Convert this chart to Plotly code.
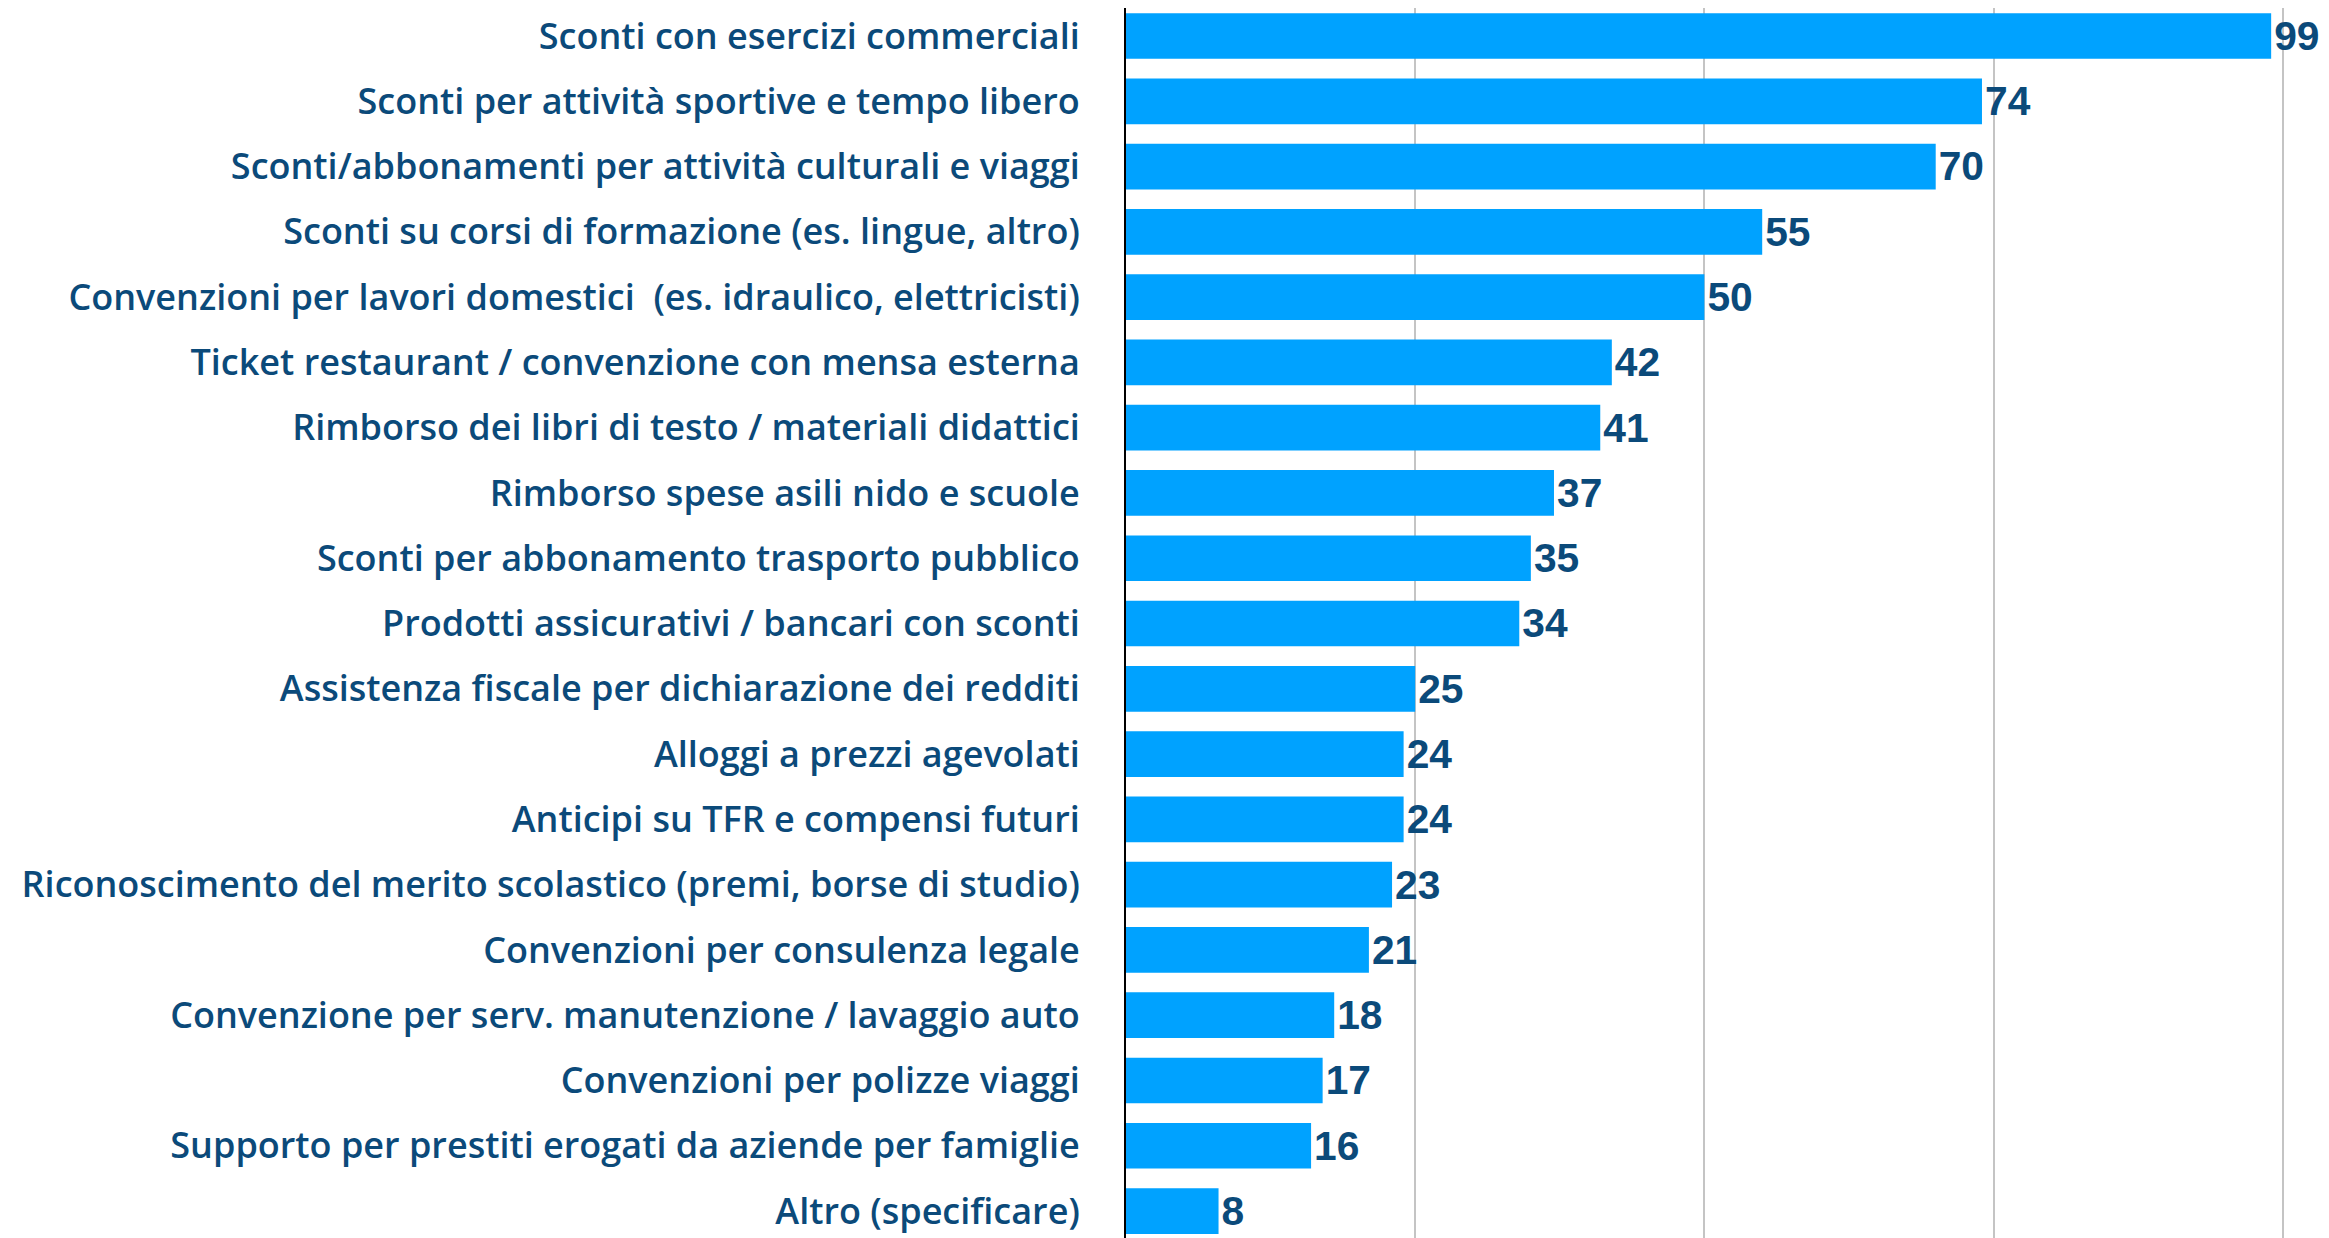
import plotly.graph_objects as go

categories = [
    "Sconti con esercizi commerciali",
    "Sconti per attività sportive e tempo libero",
    "Sconti/abbonamenti per attività culturali e viaggi",
    "Sconti su corsi di formazione (es. lingue, altro)",
    "Convenzioni per lavori domestici  (es. idraulico, elettricisti)",
    "Ticket restaurant / convenzione con mensa esterna",
    "Rimborso dei libri di testo / materiali didattici",
    "Rimborso spese asili nido e scuole",
    "Sconti per abbonamento trasporto pubblico",
    "Prodotti assicurativi / bancari con sconti",
    "Assistenza fiscale per dichiarazione dei redditi",
    "Alloggi a prezzi agevolati",
    "Anticipi su TFR e compensi futuri",
    "Riconoscimento del merito scolastico (premi, borse di studio)",
    "Convenzioni per consulenza legale",
    "Convenzione per serv. manutenzione / lavaggio auto",
    "Convenzioni per polizze viaggi",
    "Supporto per prestiti erogati da aziende per famiglie",
    "Altro (specificare)",
]
values = [99, 74, 70, 55, 50, 42, 41, 37, 35, 34, 25, 24, 24, 23, 21, 18, 17, 16, 8]
grid_ticks = [0, 25, 50, 75, 100]

BAR = "#00A2FF"
TXT = "#0B4A7A"

fig = go.Figure(
    go.Bar(
        x=values,
        y=categories,
        orientation="h",
        marker=dict(color=BAR, line=dict(width=0)),
        text=[str(v) for v in values],
        textposition="outside",
        textfont=dict(family="Liberation Sans", size=41, color=TXT, weight=700),
        cliponaxis=False,
        width=0.7,
    )
)

fig.update_layout(
    width=2321,
    height=1230,
    margin=dict(l=1118, r=0, t=0, b=0),
    plot_bgcolor="white",
    paper_bgcolor="white",
    showlegend=False,
    xaxis=dict(
        range=[0, 104.0],
        tickvals=grid_ticks,
        showticklabels=False,
        showgrid=True,
        gridcolor="#C4C4C4",
        gridwidth=2,
        zeroline=False,
        showline=False,
        automargin=False,
    ),
    yaxis=dict(
        range=[18.413, -0.429],
        showline=True,
        linecolor="#000000",
        linewidth=2,
        ticks="",
        ticklabelstandoff=37,
        tickfont=dict(family="Open Sans", size=36, color=TXT, weight=600),
        showgrid=False,
        automargin=False,
    ),
)

fig.write_html("out.html")
